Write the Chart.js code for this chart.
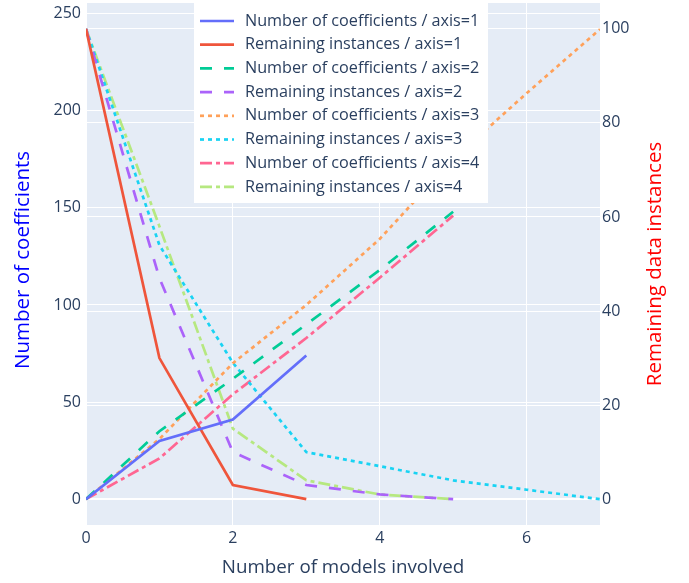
<!DOCTYPE html>
<html>
<head>
<meta charset="utf-8">
<script src="https://cdn.jsdelivr.net/npm/chart.js@4.4.1/dist/chart.umd.min.js"></script>
<style>
html,body{margin:0;padding:0;background:#fff;}
#wrap{width:689px;height:583px;position:relative;}
</style>
</head>
<body>
<div id="wrap"><canvas id="c" width="689" height="583"></canvas></div>
<script>
// ---- data ----
const xModels = [0, 1, 2, 3, 4, 5, 6, 7];
const coefAxis1 = [0, 30, 41, 74];
const remAxis1 = [100, 30, 3, 0];
const coefAxis2 = [0, 35, 62, 90, 118, 148];
const remAxis2 = [100, 47, 10, 3, 1, 0];
const coefAxis3 = [0, 31, 70, 100, 134, 175, 209, 242];
const remAxis3 = [100, 54, 29, 10, 7, 4, 2, 0];
const coefAxis4 = [0, 21, 54, 83, 114, 146];
const remAxis4 = [100, 58, 15, 4, 1, 0];
const xTicks = [0, 2, 4, 6];
const leftTicks = [0, 50, 100, 150, 200, 250];
const rightTicks = [0, 20, 40, 60, 80, 100];
const seriesNames = [
  'Number of coefficients / axis=1', 'Remaining instances / axis=1',
  'Number of coefficients / axis=2', 'Remaining instances / axis=2',
  'Number of coefficients / axis=3', 'Remaining instances / axis=3',
  'Number of coefficients / axis=4', 'Remaining instances / axis=4'
];
const xTitle = 'Number of models involved';
const yLeftTitle = 'Number of coefficients';
const yRightTitle = 'Remaining data instances';

// ---- styles ----
const colors = ['#636efa', '#EF553B', '#00cc96', '#ab63fa', '#FFA15A', '#19d3f3', '#FF6692', '#B6E880'];
const D = 4;
const dashes = {solid: [], dash: [3*D, 3*D], dot: [D, D], dashdot: [3*D, D, D, D]};
const dashOrder = ['solid','solid','dash','dash','dot','dot','dashdot','dashdot'];
const FONT = '"Open Sans", "DejaVu Sans", sans-serif';
const TXT = '#2a3f5f';

function pts(arr) { return arr.map((v, i) => ({x: xModels[i], y: v})); }
const allSeries = [coefAxis1, remAxis1, coefAxis2, remAxis2, coefAxis3, remAxis3, coefAxis4, remAxis4];

const datasets = allSeries.map((arr, i) => ({
  label: seriesNames[i],
  data: pts(arr),
  yAxisID: i % 2 === 0 ? 'y' : 'y2',
  borderColor: colors[i],
  backgroundColor: colors[i],
  borderWidth: 2.7,
  borderDash: dashes[dashOrder[i]],
  pointRadius: 0,
  pointHoverRadius: 0,
  tension: 0,
  fill: false
}));

const bgPlugin = {
  id: 'bg',
  beforeDraw(chart) {
    const {ctx, chartArea: a} = chart;
    ctx.save();
    ctx.fillStyle = '#ffffff';
    ctx.fillRect(0, 0, chart.width, chart.height);
    ctx.fillStyle = '#E5ECF6';
    ctx.fillRect(a.left, a.top, a.right - a.left, a.bottom - a.top);
    ctx.restore();
  }
};

const overlayPlugin = {
  id: 'overlay',
  afterDraw(chart) {
    const {ctx, chartArea: a} = chart;
    ctx.save();
    // legend
    const lx = 194, ly = 3, lw = 294, lh = 200;
    ctx.fillStyle = '#ffffff';
    ctx.fillRect(lx, ly, lw, lh);
    chart.data.datasets.forEach((ds, i) => {
      const cy = 21 + i * 23.7;
      ctx.strokeStyle = ds.borderColor;
      ctx.lineWidth = ds.borderWidth;
      ctx.setLineDash(ds.borderDash);
      ctx.beginPath();
      ctx.moveTo(200, cy);
      ctx.lineTo(234, cy);
      ctx.stroke();
      ctx.setLineDash([]);
      ctx.fillStyle = TXT;
      ctx.font = '16.2px ' + FONT;
      ctx.textAlign = 'left';
      ctx.textBaseline = 'middle';
      ctx.fillText(ds.label, 245, cy);
    });
    // titles
    const midY = (a.top + a.bottom) / 2;
    ctx.textAlign = 'center';
    ctx.textBaseline = 'middle';
    ctx.font = '18.8px ' + FONT;
    ctx.fillStyle = TXT;
    ctx.fillText(xTitle, (a.left + a.right) / 2, 568);
    ctx.font = '20.5px ' + FONT;
    ctx.save();
    ctx.translate(23, midY - 4);
    ctx.rotate(-Math.PI / 2);
    ctx.fillStyle = '#0000ff';
    ctx.fillText(yLeftTitle, 0, 0);
    ctx.restore();
    ctx.save();
    ctx.translate(655, midY);
    ctx.rotate(-Math.PI / 2);
    ctx.fillStyle = '#ff0000';
    ctx.fillText(yRightTitle, 0, 0);
    ctx.restore();
    ctx.restore();
  }
};

function noPad(s) { s.paddingTop = 0; s.paddingBottom = 0; s.paddingLeft = 0; s.paddingRight = 0; }
const gridColor = '#ffffff';
new Chart(document.getElementById('c'), {
  type: 'line',
  data: {datasets},
  options: {
    responsive: false,
    animation: false,
    events: [],
    layout: {padding: {top: 3, left: 0, right: 0, bottom: 0}},
    plugins: {legend: {display: false}, title: {display: false}, tooltip: {enabled: false}},
    scales: {
      x: {
        type: 'linear', min: 0, max: 7,
        afterBuildTicks: s => { s.ticks = xTicks.map(v => ({value: v})); },
        afterFit: s => { s.height = 58; noPad(s); },
        grid: {color: gridColor, lineWidth: 1, drawTicks: false},
        border: {display: false},
        ticks: {color: TXT, font: {family: FONT, size: 16}, padding: 4, maxRotation: 0}
      },
      y: {
        type: 'linear', position: 'left', min: -13.3, max: 255.5,
        afterBuildTicks: s => { s.ticks = leftTicks.map(v => ({value: v})); },
        afterFit: s => { s.width = 86; noPad(s); },
        grid: {color: gridColor, lineWidth: c => c.tick && c.tick.value === 0 ? 2 : 1, drawTicks: false},
        border: {display: false},
        ticks: {color: TXT, font: {family: FONT, size: 16}, padding: 5}
      },
      y2: {
        type: 'linear', position: 'right', min: -5.5, max: 105.5,
        afterBuildTicks: s => { s.ticks = rightTicks.map(v => ({value: v})); },
        afterFit: s => { s.width = 89; noPad(s); },
        grid: {color: gridColor, lineWidth: c => c.tick && c.tick.value === 0 ? 2 : 1, drawTicks: false},
        border: {display: false},
        ticks: {color: TXT, font: {family: FONT, size: 16}, padding: 2}
      }
    }
  },
  plugins: [bgPlugin, overlayPlugin]
});
</script>
</body>
</html>
